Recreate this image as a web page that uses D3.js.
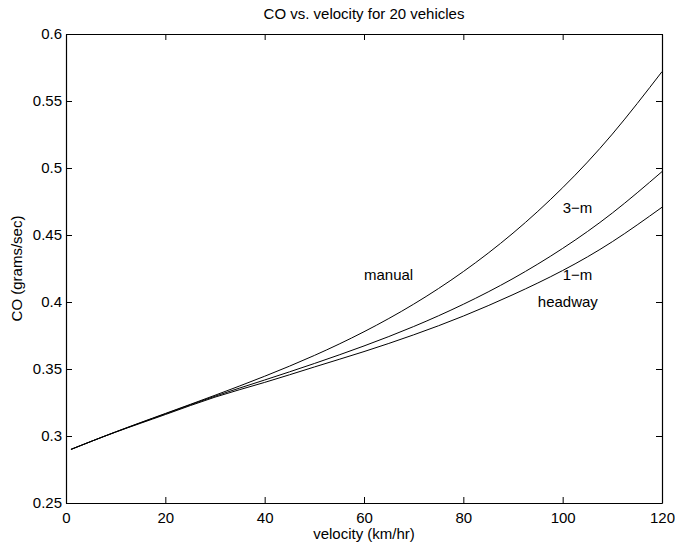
<!DOCTYPE html>
<html>
<head>
<meta charset="utf-8">
<script src="https://cdn.jsdelivr.net/npm/d3@7"></script>
<style>
  html, body { margin: 0; padding: 0; background: #fff; }
  svg text { font-family: "Liberation Sans", Arial, Helvetica, sans-serif; fill: #000; }
</style>
</head>
<body>
<svg id="chart" width="675" height="545"></svg>
<script>
// ---- data ----
const velocity = [1, 10, 20, 30, 40, 50, 60, 70, 80, 90, 100, 110, 120];
const manual   = [0.290, 0.3031, 0.3168, 0.3304, 0.3446, 0.3601, 0.3778, 0.3984, 0.4227, 0.4514, 0.4853, 0.5253, 0.5719];
const threeM   = [0.290, 0.3030, 0.3165, 0.3297, 0.3418, 0.3541, 0.3672, 0.3817, 0.3983, 0.4175, 0.4400, 0.4664, 0.4973];
const oneM     = [0.290, 0.3029, 0.3160, 0.3290, 0.3400, 0.3515, 0.3630, 0.3755, 0.3895, 0.4055, 0.4235, 0.4450, 0.4707];
const xTicks = [0, 20, 40, 60, 80, 100, 120];
const yTicks = [0.25, 0.3, 0.35, 0.4, 0.45, 0.5, 0.55, 0.6];
const yTickLabels = ["0.25", "0.3", "0.35", "0.4", "0.45", "0.5", "0.55", "0.6"];
const annotations = [
  { text: "manual",  x: 60,  y: 0.42 },
  { text: "3\u2212m", x: 100, y: 0.47 },
  { text: "1\u2212m", x: 100, y: 0.42 },
  { text: "headway", x: 95,  y: 0.40 }
];
const titleText = "CO vs. velocity for 20 vehicles";
const xLabelText = "velocity (km/hr)";
const yLabelText = "CO (grams/sec)";

// ---- layout ----
const L = 66, R = 662, T = 34, B = 503;
const fs = 15;
const svg = d3.select("#chart");
const x = d3.scaleLinear().domain([0, 120]).range([L, R]);
const y = d3.scaleLinear().domain([0.25, 0.6]).range([B, T]);

const tickLen = 6;
const gB = svg.append("g").attr("transform", `translate(0,${B})`)
  .call(d3.axisBottom(x).tickValues(xTicks).tickSizeInner(-tickLen).tickSizeOuter(0).tickPadding(9).tickFormat(d3.format("d")));
const gT = svg.append("g").attr("transform", `translate(0,${T})`)
  .call(d3.axisTop(x).tickValues(xTicks).tickSizeInner(-tickLen).tickSizeOuter(0).tickFormat(""));
const gL = svg.append("g").attr("transform", `translate(${L},0)`)
  .call(d3.axisLeft(y).tickValues(yTicks).tickSizeInner(-tickLen).tickSizeOuter(0).tickPadding(4)
    .tickFormat((d, i) => yTickLabels[i]));
const gR = svg.append("g").attr("transform", `translate(${R},0)`)
  .call(d3.axisRight(y).tickValues(yTicks).tickSizeInner(-tickLen).tickSizeOuter(0).tickFormat(""));

[gB, gT, gL, gR].forEach(g => {
  g.select(".domain").attr("stroke", "#000").attr("stroke-width", 1.2);
  g.selectAll(".tick line").attr("stroke", "#000").attr("stroke-width", 1);
  g.selectAll(".tick text").attr("font-size", fs).attr("fill", "#000")
    .attr("font-family", '"Liberation Sans", Arial, Helvetica, sans-serif');
});
gL.selectAll(".tick text").attr("x", -4);

const line = d3.line().x(d => x(d[0])).y(d => y(d[1])).curve(d3.curveNatural);
[manual, threeM, oneM].forEach(series => {
  svg.append("path")
    .datum(velocity.map((v, i) => [v, series[i]]))
    .attr("fill", "none").attr("stroke", "#000").attr("stroke-width", 1)
    .attr("d", line);
});

svg.selectAll("text.ann").data(annotations).enter().append("text")
  .attr("class", "ann")
  .attr("x", d => x(d.x)).attr("y", d => y(d.y))
  .attr("dy", "0.35em").attr("font-size", fs)
  .text(d => d.text);

svg.append("text").attr("x", (L + R) / 2).attr("y", 19).attr("text-anchor", "middle")
  .attr("font-size", fs).text(titleText);
svg.append("text").attr("x", (L + R) / 2).attr("y", 539).attr("text-anchor", "middle")
  .attr("font-size", fs).text(xLabelText);
svg.append("text").attr("transform", `translate(22,${(T + B) / 2}) rotate(-90)`)
  .attr("text-anchor", "middle").attr("font-size", fs).text(yLabelText);
</script>
</body>
</html>
